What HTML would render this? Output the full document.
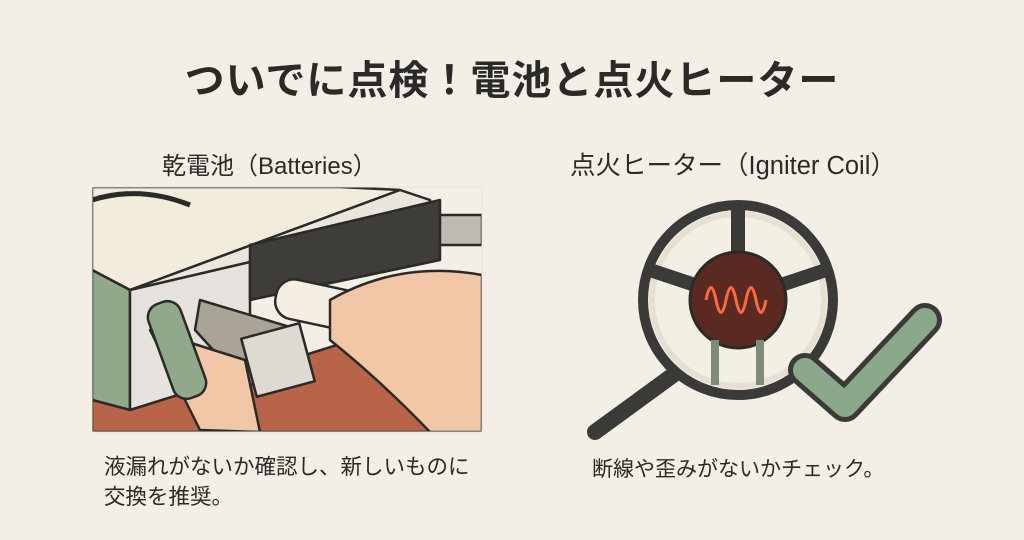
<!DOCTYPE html><html><head><meta charset="utf-8"><style>
body{margin:0;width:1024px;height:540px;background:#f3efe6;position:relative;overflow:hidden;font-family:"Liberation Sans","Noto Sans CJK JP",sans-serif;color:#2a2a28}
.t{position:absolute;white-space:nowrap}
</style></head><body>
<div class="t" style="left:0;width:1024px;text-align:center;top:48px;font-size:40px;font-weight:bold;letter-spacing:1px">ついでに点検！電池と点火ヒーター</div>
<div class="t" style="left:162px;top:146px;font-size:24px">乾電池（Batteries）</div>
<div class="t" style="left:570px;top:145px;font-size:25.5px">点火ヒーター（Igniter Coil）</div>
<div class="t" style="left:104px;top:452px;font-size:21.5px;line-height:30px">液漏れがないか確認し、新しいものに<br>交換を推奨。</div>
<div class="t" style="left:592px;top:453px;font-size:21px">断線や歪みがないかチェック。</div>
<svg style="position:absolute;left:0;top:0" width="1024" height="540">
<defs><clipPath id="c"><rect x="92" y="187" width="390" height="245"/></clipPath></defs>
<g clip-path="url(#c)" stroke="#2a2a28" stroke-width="2.5" stroke-linejoin="round">
<rect x="92" y="187" width="390" height="245" fill="#f3efe6" stroke="none"/>
<polygon points="92,187 340,187 400,190 130,290 92,270" fill="#f1ecdc"/>
<polygon points="130,290 400,190 430,200 430,240 250,262 150,290" fill="#eae6de"/>
<polygon points="92,270 130,290 130,410 92,400" fill="#8fa98a"/>
<polygon points="130,290 250,262 250,400 150,420 130,410" fill="#e6e3de"/>
<polygon points="250,245 440,200 440,260 250,300" fill="#3f3d3a"/>
<polygon points="92,400 130,410 480,300 482,432 92,432" fill="#b86448"/>
<path d="M92,200 Q140,185 190,205" fill="none" stroke-width="5"/>
<rect x="440" y="215" width="42" height="30" fill="#bfbbb2"/>
<polygon points="200,300 300,330 300,380 245,385 195,330" fill="#a9a497"/>
<rect x="248" y="330" width="60" height="60" fill="#dddad4" transform="rotate(-15 278 360)"/>
<path d="M150,330 L200,430 L260,432 L245,360 Z" fill="#f2c7a7"/>
<rect x="160" y="300" width="34" height="100" rx="14" fill="#8fa98a" transform="rotate(-20 177 350)"/>
<rect x="275" y="285" width="90" height="40" rx="18" fill="#f4efe2" transform="rotate(12 320 305)"/>
<path d="M330,300 Q400,260 482,275 L482,432 L430,432 Q380,380 330,340 Z" fill="#f2c7a7"/>
</g>
<rect x="92" y="187" width="390" height="245" fill="none" stroke="#e8e2d6"/>
<g stroke="#2a2a28" stroke-width="3">
<line x1="680" y1="370" x2="595" y2="432" stroke="#3a3a38" stroke-width="16" stroke-linecap="round"/>
<circle cx="738" cy="300" r="95" fill="#f3efe4" stroke="#3a3a38" stroke-width="10"/>
<circle cx="738" cy="300" r="86" fill="none" stroke="#e6e0d2" stroke-width="6"/>
<g stroke="#3a3a38" stroke-width="14"><line x1="738" y1="210" x2="738" y2="255"/><line x1="650" y1="270" x2="695" y2="285"/><line x1="826" y1="270" x2="781" y2="285"/></g>
<circle cx="738" cy="300" r="48" fill="#5a2a22"/>
<path d="M706,300 q5,-25 10,0 t10,0 t10,0 t10,0 t10,0 t10,0" fill="none" stroke="#ff6a3a" stroke-width="3"/>
<path d="M715,340 L715,385 M760,340 L760,385" stroke="#7f8a7a" stroke-width="8"/>
<path d="M805,370 L845,405 L925,320" fill="none" stroke="#3a3a38" stroke-width="34" stroke-linecap="round" stroke-linejoin="round"/>
<path d="M805,370 L845,405 L925,320" fill="none" stroke="#8aa98a" stroke-width="24" stroke-linecap="round" stroke-linejoin="round"/>
</g>
</svg>
</body></html>
